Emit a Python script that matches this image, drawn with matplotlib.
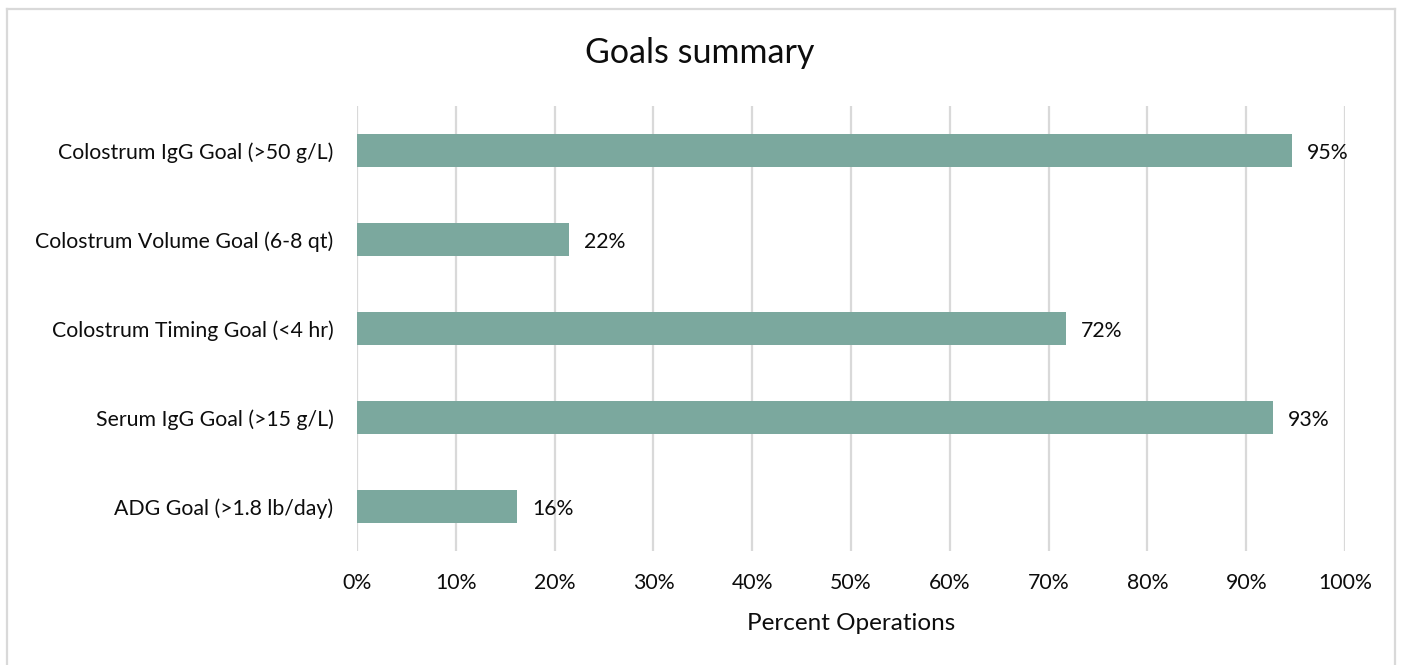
import matplotlib.pyplot as plt
from matplotlib.lines import Line2D

plt.rcParams['font.family'] = ['Lato', 'DejaVu Sans']

goals = ["Colostrum IgG Goal (>50 g/L)",
         "Colostrum Volume Goal (6-8 qt)",
         "Colostrum Timing Goal (<4 hr)",
         "Serum IgG Goal (>15 g/L)",
         "ADG Goal (>1.8 lb/day)"]
pct = [94.6, 21.5, 71.8, 92.7, 16.2]
xticks = [0, 10, 20, 30, 40, 50, 60, 70, 80, 90, 100]

W, H = 1401, 665
fig = plt.figure(figsize=(W/100, H/100), dpi=100)
ax = fig.add_axes([357/W, 1-551/H, (1345-357)/W, (551-106)/H])

txt = "#0d0d0d"
fs = 15.3

ypos = list(range(len(goals)))
ax.barh(ypos, pct, height=0.36, color="#7BA89E", zorder=3)
for y, v in zip(ypos, pct):
    ax.text(v + 1.5, y + 0.03, "%.0f%%" % v, va="center", ha="left", fontsize=fs, color=txt)

ax.set_xlim(0, 100)
ax.set_ylim(len(goals)-0.5, -0.5)
ax.set_yticks(ypos)
ax.set_yticklabels(goals, fontsize=fs, color=txt)
ax.set_xticks(xticks)
ax.set_xticklabels(["%d%%" % t for t in xticks], fontsize=fs, color=txt)
ax.tick_params(length=0, pad=16, axis="x")
ax.tick_params(length=0, pad=17, axis="y")
ax.grid(axis="x", color="#D9D9D9", linewidth=1.6, zorder=0)
for s in ax.spines.values():
    s.set_visible(False)
ax.set_xlabel("Percent Operations", fontsize=17.5, color=txt, labelpad=14)

fig.text(700/W, 1-53/H, "Goals summary", ha="center", va="center", fontsize=24.5, color=txt)

# outer frame
bc = "#D9D9D9"
x0, x1, y0 = 6.5/W, 1395/W, 1-8.5/H
fig.add_artist(Line2D([x0, x0], [0, y0], color=bc, lw=1.6, transform=fig.transFigure))
fig.add_artist(Line2D([x0, x1], [y0, y0], color=bc, lw=1.6, transform=fig.transFigure))
fig.add_artist(Line2D([x1, x1], [0, y0], color=bc, lw=1.6, transform=fig.transFigure))

fig.savefig("out.png", dpi=100)
